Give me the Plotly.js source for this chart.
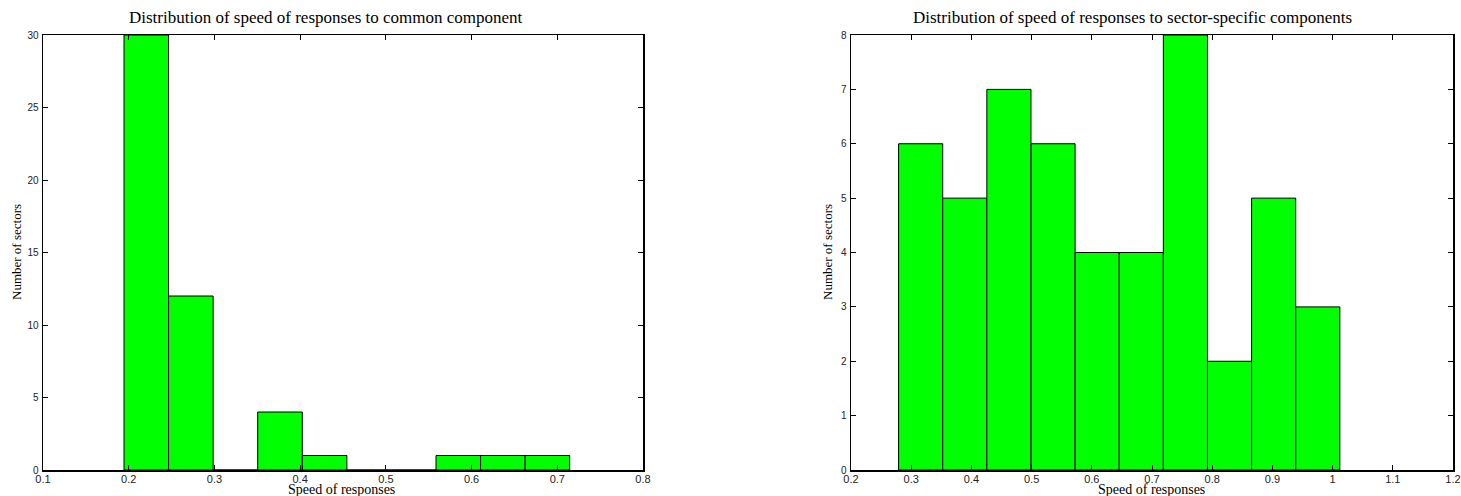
<!DOCTYPE html>
<html>
<head>
<meta charset="utf-8">
<script src="https://cdn.plot.ly/plotly-3.0.1.min.js"></script>
<style>html,body{margin:0;padding:0;background:#fff;}#chart{width:1461px;height:496px;}</style>
</head>
<body>
<div id="chart"></div>
<script>
// Left histogram: speed of responses to common component
const leftBinCenters = [0.2205, 0.2725, 0.3245, 0.3765, 0.4285, 0.4805, 0.5325, 0.5845, 0.6365, 0.6885];
const leftCounts = [30, 12, 0, 4, 1, 0, 0, 1, 1, 1];
const leftBinWidth = 0.052;

// Right histogram: speed of responses to sector-specific components
const rightBinCenters = [0.3157, 0.389, 0.4623, 0.5356, 0.6089, 0.6822, 0.7555, 0.8288, 0.9021, 0.9754];
const rightCounts = [6, 5, 7, 6, 4, 4, 8, 2, 5, 3];
const rightBinWidth = 0.0733;

const leftXTicks = [0.1, 0.2, 0.3, 0.4, 0.5, 0.6, 0.7, 0.8];
const leftYTicks = [0, 5, 10, 15, 20, 25, 30];
const rightXTicks = [0.2, 0.3, 0.4, 0.5, 0.6, 0.7, 0.8, 0.9, 1, 1.1, 1.2];
const rightYTicks = [0, 1, 2, 3, 4, 5, 6, 7, 8];

const titleLeft = "Distribution of speed of responses to common component";
const titleRight = "Distribution of speed of responses to sector-specific components";
const xTitle = "Speed of responses";
const yTitle = "Number of sectors";

const W = 1461, H = 496;
const px = v => v / W, py = v => 1 - v / H;

const barStyle = {color: '#00ff00', line: {color: '#000000', width: 1}};

const traces = [
  {type: 'bar', x: leftBinCenters, y: leftCounts, width: leftBinCenters.map(() => leftBinWidth),
   marker: barStyle, xaxis: 'x', yaxis: 'y', hoverinfo: 'x+y'},
  {type: 'bar', x: rightBinCenters, y: rightCounts, width: rightBinCenters.map(() => rightBinWidth),
   marker: barStyle, xaxis: 'x2', yaxis: 'y2', hoverinfo: 'x+y'}
];

const xTickFont = {family: 'Liberation Sans, Arial, sans-serif', size: 11, color: '#222'};
const yTickFont = {family: 'Liberation Sans, Arial, sans-serif', size: 10, color: '#222'};
const serif = 'Liberation Serif, Times New Roman, serif';

function xAxis(domain, range, ticks, anchor) {
  return {domain: domain, range: range, tickvals: ticks, ticktext: ticks.map(String),
    ticks: 'inside', ticklen: 5, tickwidth: 1, tickcolor: '#000', mirror: 'ticks',
    showline: true, linecolor: '#000', linewidth: 1.5, showgrid: false, zeroline: false,
    tickfont: xTickFont, anchor: anchor, fixedrange: true, ticklabelstandoff: -2};
}
function yAxis(range, ticks, anchor) {
  return {domain: [py(470), py(35)], range: range, tickvals: ticks, ticktext: ticks.map(String),
    ticks: 'inside', ticklen: 5, tickwidth: 1, tickcolor: '#000', mirror: 'ticks',
    showline: true, linecolor: '#000', linewidth: 1.5, showgrid: false, zeroline: false,
    tickfont: yTickFont, anchor: anchor, fixedrange: true, ticklabelstandoff: 1};
}

const ann = (text, x, y, size, angle) => ({text: text, x: x, y: y, xref: 'paper', yref: 'paper',
  xanchor: 'center', yanchor: 'middle', showarrow: false, textangle: angle || 0,
  font: {family: serif, size: size, color: '#000'}});

const layout = {
  width: W, height: H,
  margin: {l: 0, r: 0, t: 0, b: 0},
  paper_bgcolor: '#fff', plot_bgcolor: '#fff',
  showlegend: false, bargap: 0,
  xaxis: xAxis([px(43), px(643)], [0.1, 0.8], leftXTicks, 'y'),
  yaxis: yAxis([0, 30], leftYTicks, 'x'),
  xaxis2: xAxis([px(851), px(1453)], [0.2, 1.2], rightXTicks, 'y2'),
  yaxis2: yAxis([0, 8], rightYTicks, 'x2'),
  annotations: [
    ann(titleLeft, px(326), py(18), 17),
    ann(titleRight, px(1132), py(18), 17),
    ann(xTitle, px(341), py(489), 14),
    ann(xTitle, px(1151), py(489), 14),
    ann(yTitle, px(16), py(252), 13, -90),
    ann(yTitle, px(827), py(252), 13, -90)
  ]
};

Plotly.newPlot('chart', traces, layout, {displayModeBar: false, staticPlot: true});
</script>
</body>
</html>
